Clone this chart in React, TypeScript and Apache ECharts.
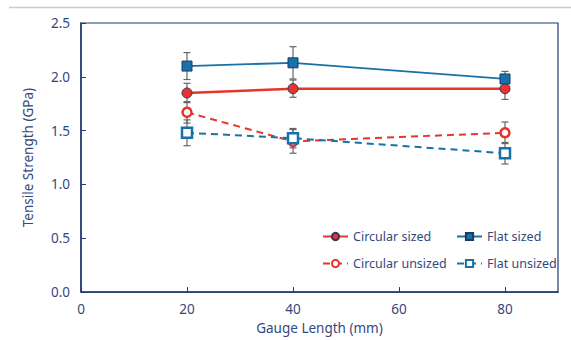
import React, { useEffect, useRef } from "react";
import * as echarts from "echarts";

const gaugeLengths = [20, 40, 80];
const circularSized = [1.85, 1.89, 1.89];
const circularSizedErr = [0.09, 0.08, 0.1];
const flatSized = [2.1, 2.13, 1.98];
const flatSizedErr = [0.125, 0.15, 0.07];
const circularUnsized = [1.67, 1.4, 1.48];
const circularUnsizedErr = [0.1, 0.11, 0.1];
const flatUnsized = [1.48, 1.43, 1.29];
const flatUnsizedErr = [0.12, 0.09, 0.1];

const RED = "#e8352b";
const BLUE = "#1672a8";
const NAVY = "#1f3a6e";
const TEXT = "#34487e";
const FONT = "'Noto Sans', sans-serif";

function errData(vals: number[], errs: number[]) {
  return gaugeLengths.map((x, i) => [x, vals[i] - errs[i], vals[i] + errs[i]]);
}

function errSeries(vals: number[], errs: number[]) {
  return {
    type: "custom",
    silent: true,
    z: 1,
    data: errData(vals, errs),
    renderItem: (params: any, api: any) => {
      const lo = api.coord([api.value(0), api.value(1)]);
      const hi = api.coord([api.value(0), api.value(2)]);
      const w = 3.5;
      const style = { stroke: "#666", lineWidth: 1.2 };
      return {
        type: "group",
        children: [
          { type: "line", shape: { x1: lo[0], y1: lo[1], x2: hi[0], y2: hi[1] }, style },
          { type: "line", shape: { x1: lo[0] - w, y1: lo[1], x2: lo[0] + w, y2: lo[1] }, style },
          { type: "line", shape: { x1: hi[0] - w, y1: hi[1], x2: hi[0] + w, y2: hi[1] }, style },
        ],
      };
    },
  };
}

function pairs(vals: number[]) {
  return gaugeLengths.map((x, i) => [x, vals[i]]);
}

export default function App() {
  const ref = useRef<HTMLDivElement>(null);
  useEffect(() => {
    const chart = echarts.init(ref.current!, null, { renderer: "svg" });
    const legendText = { color: TEXT, fontSize: 12.5, fontFamily: FONT };
    chart.setOption({
      animation: false,
      backgroundColor: "#fff",
      graphic: [
        {
          type: "line",
          shape: { x1: 9, y1: 7.5, x2: 571, y2: 7.5 },
          style: { stroke: "#cccccc", lineWidth: 1.5 },
        },
      ],
      grid: {
        left: 81,
        right: 13,
        top: 23,
        bottom: 47,
        show: true,
        borderColor: NAVY,
        borderWidth: 1.2,
      },
      legend: [
        {
          data: ["Circular sized", "Circular unsized"],
          orient: "vertical",
          left: 317,
          top: 225,
          itemWidth: 25,
          itemHeight: 9,
          itemGap: 14,
          textStyle: legendText,
        },
        {
          data: ["Flat sized", "Flat unsized"],
          orient: "vertical",
          left: 451,
          top: 225,
          itemWidth: 25,
          itemHeight: 9,
          itemGap: 14,
          textStyle: legendText,
        },
      ],
      xAxis: {
        type: "value",
        min: 0,
        max: 90,
        interval: 20,
        name: "Gauge Length (mm)",
        nameLocation: "middle",
        nameGap: 27,
        nameTextStyle: { color: TEXT, fontSize: 13.5, fontFamily: FONT },
        axisLine: { lineStyle: { color: NAVY, width: 1.5 } },
        axisTick: { inside: true, length: 5, lineStyle: { color: NAVY } },
        axisLabel: {
          color: TEXT,
          fontSize: 13.5,
          fontFamily: FONT,
          margin: 10,
          showMaxLabel: false,
        },
        splitLine: { show: false },
      },
      yAxis: {
        type: "value",
        min: 0,
        max: 2.5,
        interval: 0.5,
        name: "Tensile Strength (GPa)",
        nameLocation: "middle",
        nameGap: 46,
        nameTextStyle: { color: TEXT, fontSize: 13.5, fontFamily: FONT },
        axisLine: { show: true, lineStyle: { color: NAVY, width: 1.5 } },
        axisTick: { show: true, inside: true, length: 5, lineStyle: { color: NAVY } },
        axisLabel: {
          color: TEXT,
          fontSize: 13.5,
          fontFamily: FONT,
          margin: 11,
          formatter: (v: number) => v.toFixed(1),
        },
        splitLine: { show: false },
      },
      series: [
        errSeries(flatSized, flatSizedErr),
        errSeries(circularSized, circularSizedErr),
        errSeries(circularUnsized, circularUnsizedErr),
        errSeries(flatUnsized, flatUnsizedErr),
        {
          name: "Circular sized",
          type: "line",
          z: 3,
          data: pairs(circularSized),
          symbol: "circle",
          symbolSize: 10,
          lineStyle: { color: RED, width: 2.5 },
          itemStyle: { color: RED, borderColor: "#2b3566", borderWidth: 1 },
        },
        {
          name: "Circular unsized",
          type: "line",
          z: 3,
          data: pairs(circularUnsized),
          symbol: "circle",
          symbolSize: 9,
          lineStyle: { color: RED, width: 2, type: [7, 5] },
          itemStyle: { color: "#fff", borderColor: RED, borderWidth: 2.5 },
        },
        {
          name: "Flat sized",
          type: "line",
          z: 3,
          data: pairs(flatSized),
          symbol: "rect",
          symbolSize: 10,
          lineStyle: { color: BLUE, width: 1.8 },
          itemStyle: { color: BLUE, borderColor: "#1d3b66", borderWidth: 1 },
        },
        {
          name: "Flat unsized",
          type: "line",
          z: 3,
          data: pairs(flatUnsized),
          symbol: "rect",
          symbolSize: 10,
          lineStyle: { color: BLUE, width: 2, type: [7, 5] },
          itemStyle: { color: "#fff", borderColor: BLUE, borderWidth: 2.5 },
        },
      ],
    });
    return () => chart.dispose();
  }, []);
  return <div ref={ref} style={{ width: 571, height: 340, position: "absolute", left: 0, top: 0 }} />;
}
